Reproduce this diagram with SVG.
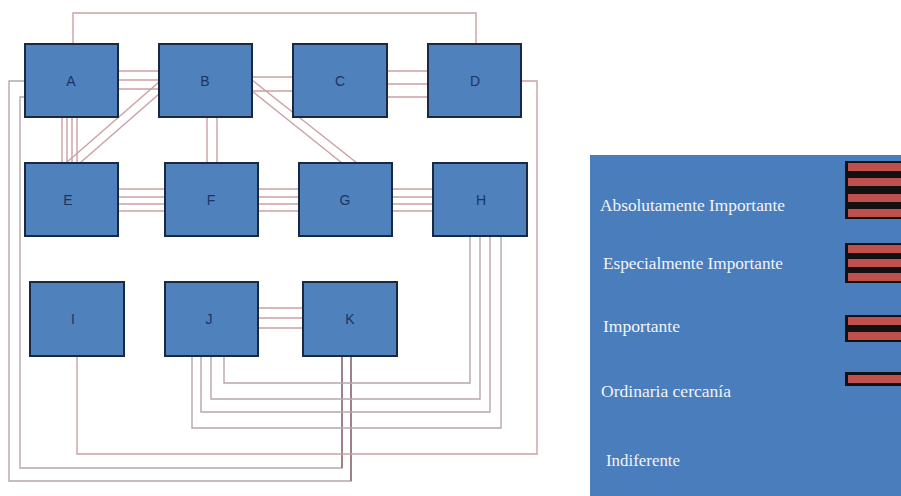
<svg xmlns="http://www.w3.org/2000/svg" width="901" height="496" viewBox="0 0 901 496">
  <style>
    .link { fill: none; stroke: #cc9fa3; stroke-width: 1.4; }
    .grey { stroke: #b8a6aa; }
    .dark { stroke: #8c6670; }
    .box { fill: #4f81bd; stroke: #1b2940; stroke-width: 2; }
    .lbl { font-family: "Liberation Sans", Arial, sans-serif; font-size: 14px; fill: #1c3462; text-anchor: middle; }
    .leg { font-family: "Liberation Serif", "Times New Roman", serif; font-size: 17px; fill: #f2f4f8; }
    .bar { fill: #c0504d; }
  </style>

  <rect width="901" height="496" fill="#ffffff"/>

  <!-- relationship lines -->
  <g id="connectors">
    <!-- A - D -->
    <path class="link" d="M73,44 V13 H476 V44"/>
    <!-- A - K -->
    <path class="link grey" d="M25,81 H9 V481 H351 V356"/>
    <path class="link grey" d="M25,97 H20 V468 H342 V356"/>
    <path class="link dark" d="M342,356 V468 M351,356 V481"/>
    <!-- I - D -->
    <path class="link" d="M77,356 V454 H537 V81 H521"/>
    <!-- J - H -->
    <path class="link grey" d="M224,356 V383 H470 V236"/>
    <path class="link grey" d="M211,356 V399 H480 V236"/>
    <path class="link grey" d="M201,356 V412 H490 V236"/>
    <path class="link grey" d="M192,356 V428 H501 V236"/>
    <!-- J - K -->
    <path class="link" d="M258,308 H303 M258,318 H303 M258,328 H303"/>
    <!-- E - F -->
    <path class="link" d="M118,189 H165 M118,197 H165 M118,204 H165 M118,211 H165"/>
    <!-- F - G -->
    <path class="link" d="M258,189 H299 M258,197 H299 M258,204 H299 M258,211 H299"/>
    <!-- G - H -->
    <path class="link" d="M392,189 H433 M392,197 H433 M392,204 H433 M392,211 H433"/>
    <!-- C - D -->
    <path class="link" d="M387,71 H428 M387,84 H428 M387,97 H428"/>
    <!-- B - C -->
    <path class="link" d="M252,77 H293 M252,91 H293"/>
    <!-- B - G -->
    <path class="link" d="M252,80 L357,163 M252,91 L342,163"/>
    <!-- B - F -->
    <path class="link" d="M207,117 V163 M217,117 V163"/>
    <!-- A - B -->
    <path class="link" d="M118,71 H159 M118,80 H159 M118,89 H159"/>
    <!-- A - E -->
    <path class="link" d="M62,117 V163 M67,117 V163 M72,117 V163 M77,117 V163"/>
    <!-- B - E -->
    <path class="link" d="M159,82 L66,163 M159,94 L80,163"/>
  </g>

  <g id="node-A"><rect class="box" x="25" y="44" width="93" height="73"/><text class="lbl" x="71" y="86">A</text></g>
  <g id="node-B"><rect class="box" x="159" y="44" width="93" height="73"/><text class="lbl" x="205" y="86">B</text></g>
  <g id="node-C"><rect class="box" x="293" y="44" width="94" height="73"/><text class="lbl" x="340" y="86">C</text></g>
  <g id="node-D"><rect class="box" x="428" y="44" width="93" height="73"/><text class="lbl" x="475" y="86">D</text></g>

  <g id="node-E"><rect class="box" x="25" y="163" width="93" height="73"/><text class="lbl" x="68" y="205">E</text></g>
  <g id="node-F"><rect class="box" x="165" y="163" width="93" height="73"/><text class="lbl" x="211" y="205">F</text></g>
  <g id="node-G"><rect class="box" x="299" y="163" width="93" height="73"/><text class="lbl" x="345" y="205">G</text></g>
  <g id="node-H"><rect class="box" x="433" y="163" width="94" height="73"/><text class="lbl" x="481" y="205">H</text></g>

  <g id="node-I"><rect class="box" x="30" y="282" width="94" height="74"/><text class="lbl" x="73" y="324">I</text></g>
  <g id="node-J"><rect class="box" x="165" y="282" width="93" height="74"/><text class="lbl" x="209" y="324">J</text></g>
  <g id="node-K"><rect class="box" x="303" y="282" width="94" height="74"/><text class="lbl" x="350" y="324">K</text></g>

  <!-- legend -->
  <g id="legend">
    <rect x="590" y="155" width="311" height="341" fill="#4a7dbc"/>

    <text class="leg" x="600" y="211" textLength="185" lengthAdjust="spacingAndGlyphs">Absolutamente Importante</text>
    <text class="leg" x="603" y="269" textLength="180" lengthAdjust="spacingAndGlyphs">Especialmente Importante</text>
    <text class="leg" x="603" y="332" textLength="77" lengthAdjust="spacingAndGlyphs">Importante</text>
    <text class="leg" x="601" y="397" textLength="130" lengthAdjust="spacingAndGlyphs">Ordinaria cercanía</text>
    <text class="leg" x="606" y="466" textLength="74" lengthAdjust="spacingAndGlyphs">Indiferente</text>

    <rect x="845" y="161" width="56" height="58" fill="#111111"/>
    <rect class="bar" x="848" y="163" width="53" height="8"/>
    <rect class="bar" x="848" y="178" width="53" height="8"/>
    <rect class="bar" x="848" y="194" width="53" height="8"/>
    <rect class="bar" x="848" y="209" width="53" height="8"/>

    <rect x="845" y="243" width="56" height="40" fill="#111111"/>
    <rect class="bar" x="848" y="245" width="53" height="8"/>
    <rect class="bar" x="848" y="259" width="53" height="8"/>
    <rect class="bar" x="848" y="273" width="53" height="8"/>

    <rect x="845" y="315" width="56" height="27" fill="#111111"/>
    <rect class="bar" x="848" y="317" width="53" height="8"/>
    <rect class="bar" x="848" y="332" width="53" height="8"/>

    <rect x="845" y="372" width="56" height="14" fill="#111111"/>
    <rect class="bar" x="848" y="375" width="53" height="8"/>
  </g>
</svg>
